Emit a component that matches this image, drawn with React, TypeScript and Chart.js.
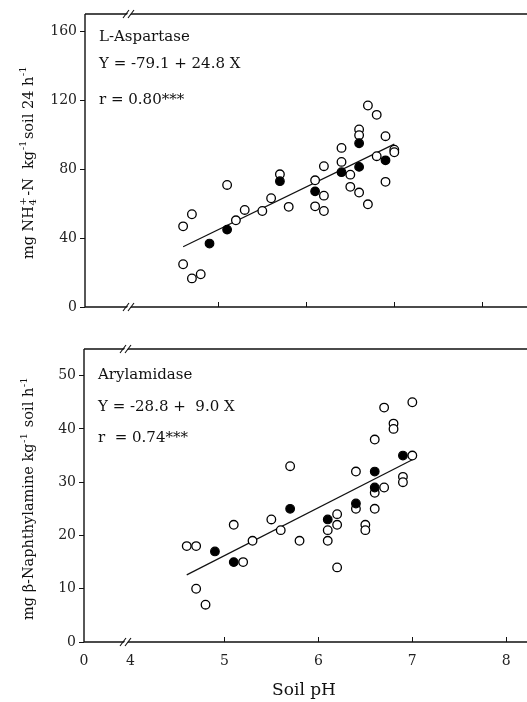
import React, { useEffect, useRef } from "react";
import { Chart, registerables } from "chart.js";
Chart.register(...registerables);

const FONT = '"DejaVu Serif", "Liberation Serif", serif';

// ---------------- data: L-Aspartase (top) ----------------
const aspOpenX = [4.6, 4.7, 4.6, 4.7, 4.8, 5.1, 5.2, 5.3, 5.5, 5.6, 5.7, 5.8, 6.1, 6.1, 6.2, 6.2, 6.2, 6.4, 6.4, 6.5, 6.5, 6.6, 6.6, 6.6, 6.7, 6.7, 6.8, 6.8, 6.9, 6.9, 7.0, 7.0];
const aspOpenY = [46.8, 53.8, 24.8, 16.6, 19.0, 70.8, 50.3, 56.3, 55.7, 63.1, 77.0, 58.1, 73.5, 58.4, 81.7, 64.6, 55.7, 92.3, 84.2, 76.8, 69.7, 103.0, 99.7, 66.4, 116.9, 59.6, 111.5, 87.5, 99.1, 72.6, 91.3, 89.8];
const aspFilledX = [4.9, 5.1, 5.7, 6.1, 6.4, 6.6, 6.6, 6.9];
const aspFilledY = [36.8, 44.9, 73.0, 67.1, 78.2, 95.0, 81.3, 85.1];
const aspFitX = [4.6, 7.0];
const aspFitY = [35.0, 94.5];
const aspYTicks = [0, 40, 80, 120, 160];
const aspNotes = ["L-Aspartase", "Y = -79.1 + 24.8 X", "r = 0.80***"];
const aspTitle: [string, string][] = [
  ["mg NH", "n"], ["4", "sub"], ["+", "supStack"], ["-N  kg", "n"], ["-1", "sup"], ["soil 24 h", "n"], ["-1", "sup"],
];

// ---------------- data: Arylamidase (bottom) ----------------
const aryOpenX = [4.6, 4.7, 4.7, 4.8, 5.1, 5.2, 5.3, 5.5, 5.6, 5.7, 5.8, 6.1, 6.1, 6.2, 6.2, 6.2, 6.4, 6.4, 6.5, 6.5, 6.6, 6.6, 6.6, 6.7, 6.7, 6.8, 6.8, 6.9, 6.9, 7.0, 7.0];
const aryOpenY = [18, 18, 10, 7, 22, 15, 19, 23, 21, 33, 19, 21, 19, 24, 22, 14, 32, 25, 22, 21, 38, 28, 25, 44, 29, 41, 40, 31, 30, 45, 35];
const aryFilledX = [4.9, 5.1, 5.7, 6.1, 6.4, 6.6, 6.6, 6.9];
const aryFilledY = [17, 15, 25, 23, 26, 32, 29, 35];
const aryFitX = [4.6, 7.0];
const aryFitY = [12.6, 34.2];
const aryYTicks = [0, 10, 20, 30, 40, 50];
const aryNotes = ["Arylamidase", "Y = -28.8 +  9.0 X", "r  = 0.74***"];
const aryTitle: [string, string][] = [
  ["mg \u03b2-Naphthylamine kg", "n"], ["-1", "sup"], [" soil h", "n"], ["-1", "sup"],
];

// ---------------- x axis ----------------
const xTickValues = [4, 5, 6, 7, 8];
const xTickLabels = ["0", "4", "5", "6", "7", "8"]; // first label sits at the axis origin
const xMarkValues = [5, 6, 7, 8];
const xTitle = "Soil pH";

const zip = (xs: number[], ys: number[]) => xs.map((x, i) => ({ x, y: ys[i] }));

function drawRich(ctx: CanvasRenderingContext2D, segs: [string, string][], cx: number, cy: number, baseShift: number) {
  ctx.save();
  ctx.translate(cx, cy);
  ctx.rotate(-Math.PI / 2);
  const big = `14.5px ${FONT}`;
  const small = `10px ${FONT}`;
  const items = segs.map(([t, k]) => {
    ctx.font = k === "n" ? big : small;
    return { t, k, w: ctx.measureText(t).width };
  });
  let x = 0;
  const pos: number[] = [];
  let prevStart = 0;
  let prevW = 0;
  for (const it of items) {
    if (it.k === "supStack") {
      pos.push(prevStart);
      const w = Math.max(prevW, it.w);
      x = prevStart + w + 1.5;
      continue;
    }
    const start = x + (it.k !== "n" ? 0.5 : 0);
    pos.push(start);
    prevStart = start;
    prevW = it.w;
    x = start + it.w + (it.k !== "n" ? 1.5 : 0);
  }
  const total = x;
  ctx.fillStyle = "#111";
  ctx.textBaseline = "alphabetic";
  ctx.textAlign = "left";
  items.forEach((it, i) => {
    ctx.font = it.k === "n" ? big : small;
    const dy = it.k === "n" ? 0 : it.k === "sub" ? 3 : -6.5;
    ctx.fillText(it.t, pos[i] - total / 2, baseShift + dy);
  });
  ctx.restore();
}

type PanelCfg = {
  canvasTop: number;
  height: number;
  areaLeft: number;
  areaTop: number;
  areaBottom: number;
  xMin: number;
  xMax: number;
  yMax: number;
  yTicks: number[];
  openX: number[];
  openY: number[];
  filledX: number[];
  filledY: number[];
  fitX: number[];
  fitY: number[];
  notes: string[];
  notesY: number[];
  notesDX: number;
  title: [string, string][];
  titleCX: number;
  titleCY: number;
  breakOffset: number;
  showXLabels: boolean;
  xTitleY: number;
};

const topPanel: PanelCfg = {
  canvasTop: 0, height: 330, areaLeft: 85, areaTop: 14, areaBottom: 307,
  xMin: 3.485, xMax: 8.508, yMax: 170, yTicks: aspYTicks,
  openX: aspOpenX, openY: aspOpenY, filledX: aspFilledX, filledY: aspFilledY, fitX: aspFitX, fitY: aspFitY,
  notes: aspNotes, notesY: [36.7, 64.3, 100], notesDX: 14,
  title: aspTitle, titleCX: 27, titleCY: 162, breakOffset: 44, showXLabels: false, xTitleY: 0,
};

const bottomPanel: PanelCfg = {
  canvasTop: 330, height: 372, areaLeft: 84, areaTop: 19, areaBottom: 312,
  xMin: 3.507, xMax: 8.22, yMax: 55, yTicks: aryYTicks,
  openX: aryOpenX, openY: aryOpenY, filledX: aryFilledX, filledY: aryFilledY, fitX: aryFitX, fitY: aryFitY,
  notes: aryNotes, notesY: [45, 76.7, 108.3], notesDX: 14,
  title: aryTitle, titleCX: 27.5, titleCY: 168, breakOffset: 42, showXLabels: true, xTitleY: 361,
};

function Panel({ cfg }: { cfg: PanelCfg }) {
  const ref = useRef<HTMLCanvasElement | null>(null);
  useEffect(() => {
    if (!ref.current) return;
    const framePlugin = {
      id: "frame",
      afterDraw(chart: any) {
        const { ctx, chartArea: a } = chart;
        const xs = chart.scales.x;
        ctx.save();
        ctx.strokeStyle = "#111";
        ctx.lineWidth = 1.4;
        ctx.beginPath();
        ctx.moveTo(a.left, a.top);
        ctx.lineTo(a.right, a.top);
        ctx.moveTo(a.left, a.bottom);
        ctx.lineTo(a.right, a.bottom);
        ctx.moveTo(a.left, a.top);
        ctx.lineTo(a.left, a.bottom);
        ctx.stroke();
        // inward x tick marks
        ctx.lineWidth = 1;
        ctx.beginPath();
        for (const v of xMarkValues) {
          const px = Math.round(xs.getPixelForValue(v)) + 0.5;
          ctx.moveTo(px, a.bottom);
          ctx.lineTo(px, a.bottom - 5);
        }
        ctx.stroke();
        // axis breaks
        const bx = a.left + cfg.breakOffset;
        for (const y of [a.top, a.bottom]) {
          ctx.fillStyle = "#fff";
          ctx.beginPath();
          ctx.moveTo(bx - 4.5, y + 4);
          ctx.lineTo(bx - 1.5, y + 4);
          ctx.lineTo(bx + 4.5, y - 4);
          ctx.lineTo(bx + 1.5, y - 4);
          ctx.closePath();
          ctx.fill();
          ctx.beginPath();
          ctx.lineWidth = 1.1;
          ctx.moveTo(bx - 6, y + 4);
          ctx.lineTo(bx + 0, y - 4);
          ctx.moveTo(bx - 1, y + 4);
          ctx.lineTo(bx + 5, y - 4);
          ctx.stroke();
        }
        // notes
        ctx.fillStyle = "#111";
        ctx.font = `15px ${FONT}`;
        ctx.textBaseline = "middle";
        ctx.textAlign = "left";
        cfg.notes.forEach((t, i) => ctx.fillText(t, a.left + cfg.notesDX, cfg.notesY[i]));
        // y title
        drawRich(ctx, cfg.title, cfg.titleCX, cfg.titleCY, 5.5);
        // x title
        if (cfg.showXLabels) {
          ctx.font = `17px ${FONT}`;
          ctx.textAlign = "center";
          ctx.textBaseline = "middle";
          ctx.fillText(xTitle, 304, cfg.xTitleY);
        }
        ctx.restore();
      },
    };

    const chart = new Chart(ref.current, {
      type: "scatter",
      data: {
        datasets: [
          {
            label: "filled",
            data: zip(cfg.filledX, cfg.filledY),
            backgroundColor: "#000",
            borderColor: "#000",
            borderWidth: 1.2,
            pointRadius: 4.3,
            pointHoverRadius: 4.3,
          },
          {
            label: "open",
            data: zip(cfg.openX, cfg.openY),
            backgroundColor: "#fff",
            borderColor: "#000",
            borderWidth: 1.3,
            pointRadius: 4.3,
            pointHoverRadius: 4.3,
          },
          {
            type: "line",
            label: "fit",
            data: zip(cfg.fitX, cfg.fitY),
            borderColor: "#111",
            borderWidth: 1.2,
            pointRadius: 0,
            fill: false,
            showLine: true,
          } as any,
        ],
      },
      options: {
        animation: false,
        responsive: false,
        devicePixelRatio: 1,
        events: [],
        layout: { autoPadding: false, padding: { top: cfg.areaTop, left: 0, right: 0, bottom: 0 } },
        plugins: { legend: { display: false }, tooltip: { enabled: false } },
        scales: {
          x: {
            type: "linear",
            min: cfg.xMin,
            max: cfg.xMax,
            grid: { display: false, drawTicks: false },
            border: { display: false },
            afterBuildTicks: (s: any) => {
              s.ticks = [cfg.xMin, ...xTickValues].map((v) => ({ value: v }));
            },
            afterFit: (s: any) => {
              s.height = cfg.height - cfg.areaBottom;
            },
            ticks: {
              display: cfg.showXLabels,
              autoSkip: false,
              maxRotation: 0,
              padding: 11,
              color: "#222",
              font: { family: FONT, size: 14 },
              callback: (_v: any, i: number) => xTickLabels[i],
            },
          },
          y: {
            type: "linear",
            min: 0,
            max: cfg.yMax,
            grid: { display: true, drawOnChartArea: false, drawTicks: true, tickLength: 5, color: "#111", lineWidth: 1 },
            border: { display: false },
            afterBuildTicks: (s: any) => {
              s.ticks = cfg.yTicks.map((v) => ({ value: v }));
            },
            afterFit: (s: any) => {
              s.width = cfg.areaLeft;
            },
            ticks: {
              padding: 3,
              color: "#222",
              font: { family: FONT, size: 14 },
            },
          },
        },
      },
      plugins: [framePlugin],
    } as any);
    return () => chart.destroy();
  }, [cfg]);
  return (
    <canvas
      ref={ref}
      width={527}
      height={cfg.height}
      style={{ position: "absolute", left: 0, top: cfg.canvasTop, width: 527, height: cfg.height, display: "block" }}
    />
  );
}

export default function App() {
  return (
    <div style={{ position: "absolute", left: 0, top: 0, width: 527, height: 702, background: "#fff", overflow: "hidden" }}>
      <Panel cfg={topPanel} />
      <Panel cfg={bottomPanel} />
    </div>
  );
}
